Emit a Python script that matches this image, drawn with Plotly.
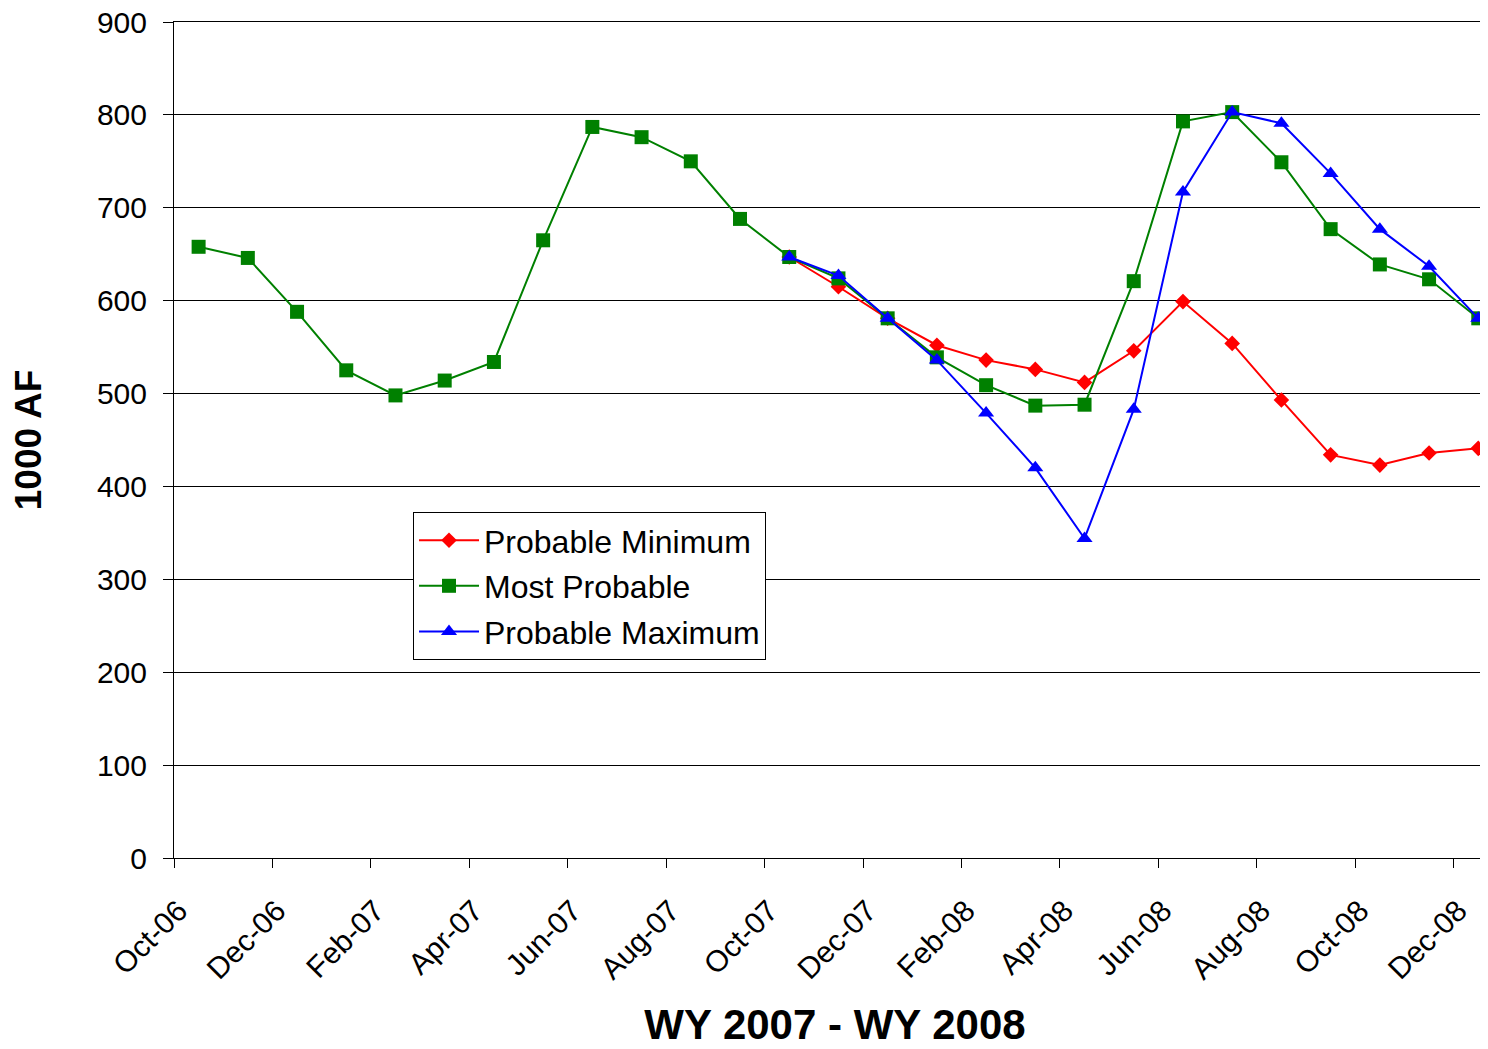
import plotly.graph_objects as go

# months on the category axis, Oct-06 .. Dec-08
months = ["Oct-06", "Nov-06", "Dec-06", "Jan-07", "Feb-07", "Mar-07", "Apr-07",
          "May-07", "Jun-07", "Jul-07", "Aug-07", "Sep-07", "Oct-07", "Nov-07",
          "Dec-07", "Jan-08", "Feb-08", "Mar-08", "Apr-08", "May-08", "Jun-08",
          "Jul-08", "Aug-08", "Sep-08", "Oct-08", "Nov-08", "Dec-08"]

# only every other month gets a label
tick_months = months[::2]

most_probable = [658, 646, 588, 525, 498, 514, 534, 665, 787, 776, 750, 688,
                 647, 624, 581, 539, 509, 487, 488, 621, 793, 803, 749, 677,
                 639, 623, 581]

# forecast series start at Oct-07
probable_min = [None] * 12 + [647, 615, 581, 552, 536, 526, 512, 546, 599, 554,
                              493, 434, 423, 436, 441]
probable_max = [None] * 12 + [647, 627, 581, 536, 479, 420, 344, 483, 717, 803,
                              791, 737, 677, 637, 581]

FONT = "Liberation Sans, Arial, sans-serif"

fig = go.Figure()
fig.add_trace(go.Scatter(
    x=months, y=probable_min, name="Probable Minimum", mode="lines+markers",
    legendgroup="min",
    line=dict(color="#ff0000", width=2),
    marker=dict(symbol="diamond", size=12, color="#ff0000")
))
fig.add_trace(go.Scatter(
    x=months, y=most_probable, name="Most Probable", mode="lines+markers",
    legendgroup="most",
    line=dict(color="#008000", width=2),
    marker=dict(symbol="square", size=14, color="#008000")
))
fig.add_trace(go.Scatter(
    x=months, y=probable_max, name="Probable Maximum", mode="lines+markers",
    legendgroup="max",
    line=dict(color="#0000ff", width=2),
    marker=dict(symbol="triangle-up", size=14, color="#0000ff")
))

# page body adds an 8px margin; the plot runs past the right window edge
fig.update_layout(
    width=1488, height=1041,
    margin=dict(l=166, r=0, t=14, b=191),
    paper_bgcolor="white", plot_bgcolor="white",
    font=dict(family=FONT, size=30, color="black"),
    showlegend=True,
    legend=dict(
        x=0.1808, y=0.414, xanchor="left", yanchor="top",
        bordercolor="black", borderwidth=1, bgcolor="white",
        font=dict(size=32), itemwidth=60, tracegroupgap=1
    ),
    xaxis=dict(
        type="category", categoryorder="array", categoryarray=months,
        range=[-0.5, 26.36], automargin=False,
        tickmode="array", tickvals=tick_months, ticktext=tick_months,
        tickson="boundaries", ticks="outside", ticklen=9, tickcolor="black",
        tickangle=-45, showgrid=False, showline=True, mirror=True,
        linecolor="black", linewidth=1, tickfont=dict(size=30),
        ticklabelstandoff=22, ticklabelshift=-20,
        title=dict(text="<b>WY 2007 - WY 2008</b>", font=dict(size=42),
                   standoff=25)
    ),
    yaxis=dict(
        range=[0, 900], dtick=100, tick0=0, automargin=False,
        showgrid=True, gridcolor="black", gridwidth=1,
        showline=True, linecolor="black", linewidth=1,
        ticks="outside", ticklen=10, tickcolor="black",
        zeroline=False, tickfont=dict(size=30), ticklabelstandoff=10,
        ticklabeloverflow="allow",
        title=dict(text="<b>1000 AF</b>", font=dict(size=37), standoff=70)
    ),
)

fig.write_html("out.html")
